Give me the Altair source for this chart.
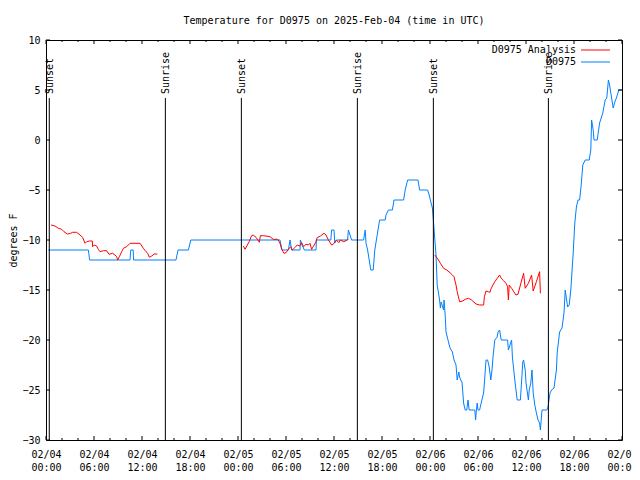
import json
import altair as alt
import pandas as pd

# ---------------- data (hours since 2025-02-04 00:00 UTC, degrees F) -------------
obs_h = [0.3, 5.3, 5.45, 10.5, 10.6, 10.9, 10.95, 16.25, 16.5, 17.8, 18.1,
         29.25, 29.5, 30.3, 30.5, 30.7, 31.75, 31.8, 32.0, 32.3, 33.75, 33.8, 35.6, 35.7, 36.0, 36.1, 36.3,
         37.7, 37.8, 38.2, 39.7, 39.9, 40.0, 40.2, 40.4, 40.6, 40.9, 41.0, 41.1, 41.3, 41.5, 41.7, 42.4,
         42.5, 42.8, 43.3, 43.5, 44.7, 44.9, 45.2, 46.5, 46.7, 47.7, 47.9, 48.1, 48.3, 48.4, 48.75, 48.9,
         49.2, 49.3, 49.4, 49.7, 49.75, 49.9, 50.0, 50.25, 50.5, 50.8, 51.0, 51.25, 51.4, 51.6, 51.7, 51.9,
         52.0, 52.2, 52.4, 52.6, 52.75, 52.9, 53.6, 53.7, 53.8, 53.9, 54.0, 54.2, 54.4, 54.7, 54.8, 55.0,
         55.2, 55.4, 55.6, 55.75, 55.9, 56.1, 56.4, 56.5, 56.7, 56.9, 57.7, 57.8, 58.0, 58.2, 58.3, 58.6,
         58.9, 59.3, 59.6, 59.7, 59.9, 60.0, 60.3, 60.4, 60.6, 60.75, 60.9, 61.1, 61.3, 61.5, 61.7, 61.8,
         61.9, 62.0, 62.6, 62.75, 63.0, 63.2, 63.5, 63.8, 63.9, 64.2, 64.5, 64.75, 64.9, 65.2, 65.4, 65.6,
         65.9, 66.1, 66.3, 66.5, 66.7, 66.9, 67.1, 67.4, 67.9, 68.1, 68.2, 68.4, 68.5, 68.9, 69.2, 69.4,
         69.6, 69.9, 70.1, 70.3, 70.45, 70.6, 70.9, 71.1, 71.3, 71.6, 72.0]
obs_v = [-11, -11, -12, -12, -11, -11, -12, -12, -11, -11, -10,
         -10, -11, -11, -10, -11, -11, -10, -10.5, -11, -11, -10, -10, -9, -9, -10.3, -10,
         -10, -9, -10, -10, -9, -10.3, -11, -12, -13, -13, -12, -11, -10, -9, -8, -8,
         -7.5, -7, -7, -6, -6, -5, -4, -4, -5, -5, -5.5, -6.2, -6.8, -7.8, -11.5, -14.5,
         -16, -16.8, -16.2, -17, -16, -17.5, -19.2, -20, -20.8, -21.2, -22, -22.5, -24, -23.2, -23.7, -24.1,
         -24.2, -26.3, -27, -27, -26, -27, -27, -28, -27, -26.3, -27, -27, -26.3, -25.3, -24.3, -22,
         -22, -22.7, -24, -23, -21.5, -20, -19.7, -19.2, -19, -20, -20, -21, -20.5, -20, -21.7, -24,
         -26, -26, -22.2, -22, -23, -24.3, -26, -25, -24.3, -23, -25.3, -26.5, -27.3, -28, -28.3, -29,
         -28, -27, -27, -26.7, -25.3, -25, -24.8, -23, -21.3, -19.2, -18.8, -17.3, -15, -16.7, -16.5, -15,
         -11.3, -8.3, -6.7, -6, -6, -4.5, -2.5, -2, -2, -1, 2, 1, 0, 0, 1.7, 2.2,
         2.7, 4, 4.2, 6, 5.5, 4.7, 3.2, 3.8, 4.2, 5, 5]

ana1_h = [0.62, 1.12, 1.54, 1.96, 2.25, 2.67, 3.08, 3.33, 3.83, 4.25, 4.58, 4.88, 5.08, 5.42, 5.79,
          5.83, 6.04, 6.33, 6.54, 6.75, 7.17, 7.58, 7.88, 8.33, 8.62, 8.83, 8.96, 9.17, 9.46, 9.67,
          10.08, 10.5, 11.75, 12.17, 12.5, 12.71, 12.92, 13.21, 13.54, 13.92]
ana1_v = [-8.5, -8.6, -8.83, -8.93, -9.17, -9.4, -9.33, -9.23, -9.23, -9.5, -9.73, -10.33, -10.17, -10.1, -10.1,
          -10.67, -10.5, -10.6, -10.93, -11.17, -11.07, -11.07, -11.43, -11.33, -11.5, -11.67, -12.0, -11.67, -11.17, -10.83,
          -10.67, -10.33, -10.33, -10.83, -11.17, -11.33, -11.73, -11.6, -11.4, -11.4]

ana2_h = [24.67, 24.88, 25.1, 25.4, 25.7, 25.9, 26.25, 26.67, 26.8, 27.2, 28.0, 28.4, 28.96, 29.25, 29.46,
          29.75, 30.0, 30.3, 30.6, 30.8, 31.1, 31.4, 31.7, 31.96, 32.2, 32.5, 32.8, 33.0, 33.2, 33.4,
          33.7, 33.9, 34.3, 34.75, 35.0, 35.3, 35.7, 35.9, 36.3, 36.6, 36.8, 37.2, 37.5, 37.8]
ana2_v = [-10.6, -10.93, -10.6, -10.17, -9.57, -9.5, -9.73, -10.23, -9.57, -9.57, -9.67, -9.93, -9.93, -10.33, -10.93,
          -11.33, -11.27, -10.93, -10.67, -11.0, -10.77, -10.5, -10.6, -10.27, -10.67, -10.43, -10.5, -10.33, -10.93, -10.67,
          -10.27, -9.77, -9.6, -9.33, -9.5, -10.0, -10.5, -10.43, -10.0, -10.27, -10.0, -10.17, -10.07, -9.9]

ana3_h = [48.6, 49.0, 49.3, 49.7, 50.1, 50.5, 50.8, 51.0, 51.25, 51.4, 51.7, 52.1, 52.4, 52.8, 53.2,
          53.75, 54.2, 54.7, 54.8, 55.0, 55.3, 55.5, 55.6, 55.8, 56.1, 56.4, 56.7, 56.9, 57.2, 57.5,
          57.7, 57.8, 57.9, 58.2, 58.75, 59.0, 59.3, 59.7, 59.9, 60.3, 60.7, 60.9, 61.3, 61.7, 61.8]
ana3_v = [-11.5, -11.93, -12.33, -12.83, -13.0, -13.27, -13.5, -13.67, -14.5, -15.17, -16.17, -16.1, -15.93, -15.83, -16.0,
          -16.4, -16.5, -16.5, -15.67, -15.1, -15.17, -15.23, -14.93, -14.6, -14.17, -13.83, -13.5, -13.83, -14.07, -14.33,
          -14.67, -16.0, -14.5, -14.83, -15.5, -15.43, -14.5, -13.33, -14.83, -14.33, -13.5, -15.1, -14.17, -13.17, -15.33]

sun_h = [0.41, 14.92, 24.42, 38.92, 48.42, 62.8]
sun_label = ["Sunset", "Sunrise", "Sunset", "Sunrise", "Sunset", "Sunrise"]

x_major = [0, 6, 12, 18, 24, 30, 36, 42, 48, 54, 60, 66, 72]
x_minor = [2, 4, 8, 10, 14, 16, 20, 22, 26, 28, 32, 34, 38, 40, 44, 46, 50, 52, 56, 58, 62, 64, 68, 70]
tick_dates = ["02/04", "02/04", "02/04", "02/04", "02/05", "02/05", "02/05", "02/05",
              "02/06", "02/06", "02/06", "02/06", "02/07"]
tick_times = ["00:00", "06:00", "12:00", "18:00", "00:00", "06:00", "12:00", "18:00",
              "00:00", "06:00", "12:00", "18:00", "00:00"]
y_major = [-30, -25, -20, -15, -10, -5, 0, 5, 10]

series_names = ["D0975 Analysis", "D0975"]
series_colors = ["#ff0000", "#0080ff"]

title_text = "Temperature for D0975 on 2025-Feb-04 (time in UTC)"
FONT = "DejaVu Sans Mono"

# ---------------- tables ----------------
obs = pd.DataFrame({"h": obs_h, "v": obs_v})
ana = pd.concat([
    pd.DataFrame({"h": ana1_h, "v": ana1_v, "seg": 1}),
    pd.DataFrame({"h": ana2_h, "v": ana2_v, "seg": 2}),
    pd.DataFrame({"h": ana3_h, "v": ana3_v, "seg": 3}),
])
sun = pd.DataFrame({"h": sun_h, "label": sun_label})
xmaj = pd.DataFrame({"h": x_major})
xmin = pd.DataFrame({"h": x_minor})
ymaj = pd.DataFrame({"v": y_major})

W, H = 576, 400

label_expr = "[{d}[round(datum.value/6)], {t}[round(datum.value/6)]]".format(
    d=json.dumps(tick_dates), t=json.dumps(tick_times))

xscale = alt.Scale(domain=[0, 72], nice=False, zero=False)
yscale = alt.Scale(domain=[-30, 10], nice=False, zero=False)

xaxis = alt.Axis(values=x_major, labelExpr=label_expr, ticks=False, tickSize=0, domain=False, grid=False,
                 labelAlign="center", labelBaseline="top", labelPadding=9, labelLineHeight=13,
                 labelFlush=False, labelOverlap=False, labelBound=False, title=None,
                 labelFont=FONT, labelFontSize=10, labelColor="black")
yaxis = alt.Axis(values=y_major, ticks=False, tickSize=0, domain=False, grid=False, labelPadding=6,
                 labelFont=FONT, labelFontSize=10, labelColor="black", labelFlush=False, labelOverlap=False,
                 title="degrees F", titleFont=FONT, titleFontSize=10, titleFontWeight="normal", titleColor="black",
                 titleAngle=270, titleX=-33, titleY=200, titleAlign="center", titleBaseline="middle")

X = alt.X("h:Q", scale=xscale, axis=xaxis)
Y = alt.Y("v:Q", scale=yscale, axis=yaxis)
Xn = alt.X("h:Q", scale=xscale)
Yn = alt.Y("v:Q", scale=yscale)

obs_line = alt.Chart(obs).mark_line(color=series_colors[1], strokeWidth=1).encode(
    x=X, y=Y, order="h:Q")
ana_line = alt.Chart(ana).mark_line(color=series_colors[0], strokeWidth=1).encode(
    x=Xn, y=Yn, detail="seg:N", order="h:Q")

sun_rules = alt.Chart(sun).mark_rule(color="black", strokeWidth=1).encode(
    x=Xn, y=alt.value(58), y2=alt.value(H))
sun_text = alt.Chart(sun).mark_text(angle=270, align="left", baseline="middle", font=FONT, fontSize=10,
                                    color="black", dy=1).encode(
    x=Xn, y=alt.value(54), text="label:N")

def xticks(df, length, top):
    y0, y1 = (0, length) if top else (H, H - length)
    return alt.Chart(df).mark_rule(color="black", strokeWidth=1).encode(
        x=Xn, y=alt.value(y0), y2=alt.value(y1))

def yticks(length, right):
    x0, x1 = (W, W - length) if right else (0, length)
    return alt.Chart(ymaj).mark_rule(color="black", strokeWidth=1).encode(
        y=Yn, x=alt.value(x0), x2=alt.value(x1))

def legend_entry(i, ypix):
    txt = alt.Chart(obs.head(1)).mark_text(align="right", baseline="middle", font=FONT, fontSize=10,
                                           color="black", text=series_names[i]).encode(
        x=alt.value(530), y=alt.value(ypix))
    ln = alt.Chart(obs.head(1)).mark_rule(strokeWidth=1, color=series_colors[i]).encode(
        x=alt.value(535), x2=alt.value(564), y=alt.value(ypix))
    return [txt, ln]

chart = alt.layer(
    obs_line, sun_rules, ana_line, sun_text,
    xticks(xmaj, 4, False), xticks(xmaj, 4, True), xticks(xmin, 2, False), xticks(xmin, 2, True),
    yticks(4, False), yticks(4, True),
    *legend_entry(0, 10), *legend_entry(1, 22),
).properties(
    width=W, height=H,
    title=alt.TitleParams(title_text, font=FONT, fontSize=10, fontWeight="normal", anchor="middle",
                          color="black", offset=9),
    autosize=alt.AutoSizeParams(type="none"),
    padding={"left": 38, "top": 32, "right": 10, "bottom": 32},
    background="white",
).configure_view(stroke="black", strokeWidth=1)

chart.save("out.html", embed_options={"renderer": "svg", "actions": False})
